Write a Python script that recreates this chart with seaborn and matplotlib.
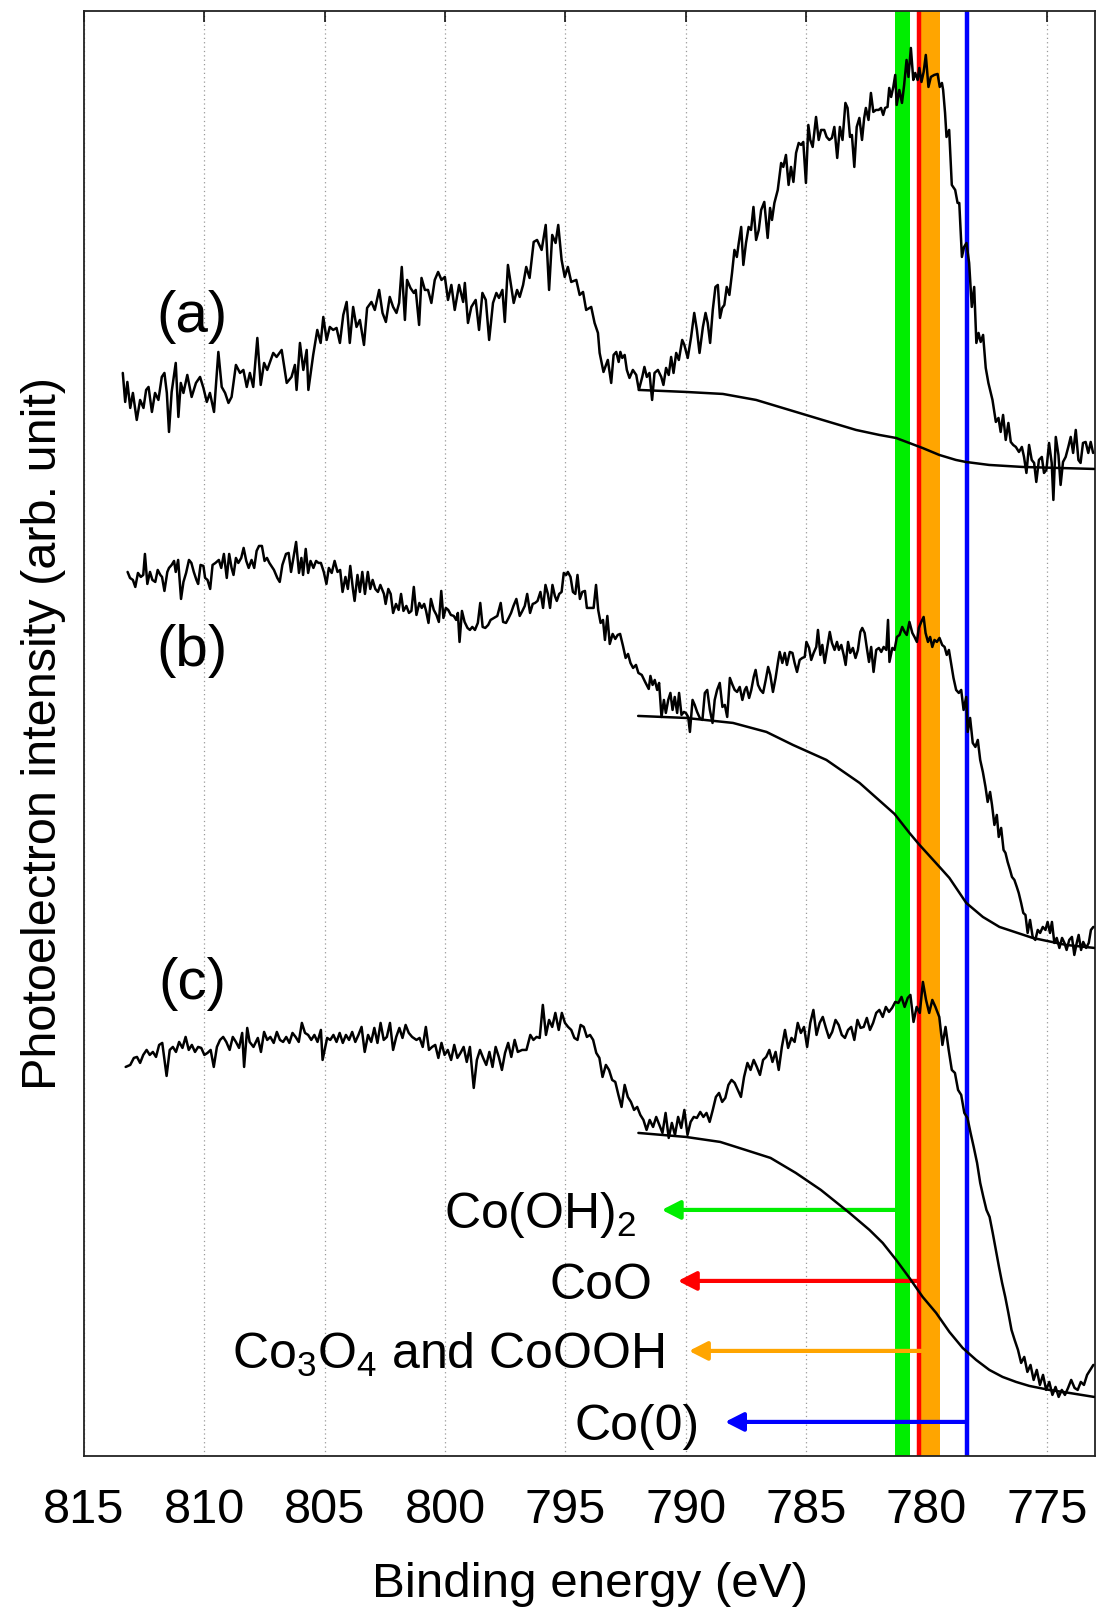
import numpy as np
import pandas as pd
import matplotlib
matplotlib.use("Agg")
import matplotlib.pyplot as plt
import seaborn as sns

# Co 2p XPS spectra (binding energy in eV, intensity in arb. units)
spec_a = [
    (813.39, 1083), (813.29, 1054), (813.20, 1074), (813.08, 1048), (812.97, 1063), (812.81, 1036),
    (812.67, 1056), (812.53, 1048), (812.42, 1066), (812.32, 1069), (812.18, 1044), (812.05, 1063),
    (811.91, 1056), (811.77, 1079), (811.66, 1083), (811.56, 1063), (811.47, 1024), (811.36, 1064),
    (811.19, 1093), (811.08, 1039), (810.98, 1073), (810.87, 1063), (810.71, 1081), (810.53, 1059),
    (810.35, 1073), (810.18, 1079), (810.04, 1068), (809.90, 1054), (809.77, 1063), (809.60, 1044),
    (809.42, 1104), (809.28, 1069), (809.14, 1063), (809.00, 1053), (808.87, 1059), (808.69, 1091),
    (808.52, 1083), (808.38, 1086), (808.24, 1069), (808.11, 1083), (807.97, 1069), (807.80, 1118),
    (807.66, 1071), (807.52, 1093), (807.39, 1086), (807.14, 1103), (807.00, 1099), (806.79, 1106),
    (806.58, 1073), (806.38, 1079), (806.24, 1091), (806.17, 1066), (806.03, 1113), (805.89, 1086),
    (805.75, 1106), (805.68, 1066), (805.48, 1101), (805.31, 1126), (805.17, 1113), (805.06, 1139),
    (804.92, 1116), (804.79, 1129), (804.65, 1126), (804.51, 1128), (804.37, 1113), (804.23, 1141),
    (804.09, 1154), (803.96, 1113), (803.82, 1149), (803.68, 1129), (803.54, 1136), (803.37, 1111),
    (803.24, 1148), (803.06, 1154), (802.92, 1146), (802.74, 1166), (802.60, 1143), (802.46, 1134),
    (802.30, 1159), (802.16, 1149), (802.02, 1143), (801.91, 1153), (801.80, 1189), (801.67, 1136),
    (801.58, 1176), (801.44, 1168), (801.30, 1163), (801.22, 1166), (801.08, 1131), (800.98, 1178),
    (800.84, 1166), (800.71, 1166), (800.57, 1153), (800.43, 1176), (800.29, 1184), (800.15, 1176),
    (800.01, 1179), (799.88, 1156), (799.74, 1171), (799.60, 1146), (799.42, 1171), (799.25, 1154),
    (799.18, 1173), (799.05, 1133), (798.91, 1149), (798.73, 1156), (798.59, 1126), (798.45, 1163),
    (798.31, 1156), (798.17, 1116), (798.01, 1153), (797.87, 1163), (797.76, 1158), (797.62, 1166),
    (797.52, 1134), (797.39, 1191), (797.25, 1169), (797.15, 1153), (797.01, 1166), (796.90, 1159),
    (796.76, 1171), (796.63, 1189), (796.49, 1178), (796.32, 1214), (796.18, 1216), (795.99, 1206),
    (795.82, 1231), (795.68, 1166), (795.55, 1221), (795.41, 1213), (795.30, 1231), (795.16, 1196),
    (795.03, 1179), (794.90, 1189), (794.76, 1174), (794.55, 1176), (794.41, 1161), (794.27, 1164),
    (794.14, 1146), (793.93, 1149), (793.79, 1133), (793.65, 1123), (793.58, 1103), (793.42, 1084),
    (793.24, 1096), (793.10, 1073), (793.00, 1101), (792.89, 1104), (792.79, 1094), (792.72, 1104),
    (792.64, 1098), (792.54, 1101), (792.45, 1086), (792.34, 1078), (792.20, 1086), (792.06, 1081),
    (791.95, 1066), (791.81, 1079), (791.72, 1089), (791.62, 1079), (791.51, 1083), (791.40, 1056),
    (791.30, 1083), (791.16, 1086), (791.02, 1079), (790.93, 1071), (790.82, 1088), (790.71, 1081),
    (790.61, 1099), (790.51, 1083), (790.40, 1103), (790.29, 1096), (790.15, 1116), (790.06, 1111),
    (789.92, 1098), (789.78, 1119), (789.65, 1143), (789.54, 1126), (789.43, 1103), (789.29, 1129),
    (789.18, 1143), (789.09, 1133), (788.99, 1113), (788.88, 1146), (788.77, 1169), (788.67, 1171),
    (788.58, 1138), (788.49, 1148), (788.40, 1151), (788.30, 1169), (788.19, 1161), (788.08, 1183),
    (787.98, 1206), (787.88, 1199), (787.80, 1213), (787.70, 1229), (787.61, 1191), (787.50, 1213),
    (787.39, 1229), (787.29, 1226), (787.19, 1249), (787.08, 1216), (786.97, 1226), (786.87, 1246),
    (786.74, 1254), (786.60, 1218), (786.50, 1248), (786.42, 1236), (786.32, 1253), (786.18, 1266),
    (786.04, 1293), (785.95, 1289), (785.84, 1301), (785.73, 1271), (785.63, 1289), (785.53, 1274),
    (785.42, 1303), (785.31, 1313), (785.21, 1311), (785.12, 1314), (785.01, 1273), (784.91, 1331),
    (784.83, 1316), (784.73, 1309), (784.59, 1339), (784.48, 1316), (784.38, 1326), (784.25, 1326),
    (784.15, 1319), (784.04, 1316), (783.93, 1318), (783.83, 1329), (783.71, 1298), (783.60, 1329),
    (783.49, 1316), (783.37, 1353), (783.28, 1348), (783.18, 1319), (783.10, 1321), (783.00, 1289),
    (782.90, 1329), (782.79, 1338), (782.68, 1316), (782.59, 1338), (782.52, 1348), (782.41, 1336),
    (782.31, 1363), (782.21, 1344), (782.10, 1346), (781.99, 1346), (781.89, 1348), (781.80, 1341),
    (781.72, 1348), (781.62, 1349), (781.55, 1368), (781.47, 1359), (781.38, 1369), (781.30, 1381),
    (781.24, 1351), (781.13, 1366), (781.02, 1353), (780.93, 1371), (780.83, 1396), (780.75, 1379),
    (780.65, 1408), (780.55, 1376), (780.47, 1383), (780.37, 1376), (780.30, 1388), (780.21, 1374),
    (780.12, 1384), (780.03, 1401), (779.92, 1369), (779.82, 1379), (779.68, 1381), (779.54, 1382),
    (779.45, 1369), (779.36, 1373), (779.31, 1366), (779.23, 1343), (779.17, 1319), (779.06, 1326),
    (778.95, 1271), (778.81, 1266), (778.71, 1253), (778.64, 1253), (778.53, 1199), (778.44, 1209),
    (778.34, 1213), (778.23, 1193), (778.12, 1149), (778.02, 1169), (777.93, 1113), (777.84, 1123),
    (777.75, 1114), (777.65, 1121), (777.54, 1088), (777.43, 1073), (777.26, 1056), (777.12, 1034),
    (777.01, 1038), (776.92, 1024), (776.82, 1041), (776.71, 1016), (776.60, 1033), (776.50, 1014),
    (776.40, 1011), (776.29, 1009), (776.16, 1004), (776.04, 1009), (775.95, 999), (775.85, 983),
    (775.74, 1011), (775.63, 996), (775.53, 993), (775.44, 974), (775.33, 996), (775.21, 999),
    (775.12, 983), (775.02, 986), (774.91, 1013), (774.80, 993), (774.73, 956), (774.63, 1019),
    (774.52, 1001), (774.43, 971), (774.33, 994), (774.22, 999), (774.11, 1009), (774.01, 1019),
    (773.91, 1003), (773.80, 1026), (773.69, 996), (773.60, 993), (773.50, 1013), (773.39, 1014),
    (773.28, 1003), (773.18, 1014), (773.08, 1003),
]

spec_b = [
    (813.19, 884), (813.09, 878), (812.97, 876), (812.87, 869), (812.76, 883), (812.64, 879),
    (812.54, 881), (812.47, 902), (812.37, 872), (812.26, 884), (812.16, 876), (812.04, 874),
    (811.94, 886), (811.83, 881), (811.76, 879), (811.66, 865), (811.54, 884), (811.47, 888),
    (811.36, 891), (811.26, 895), (811.19, 884), (811.09, 896), (810.97, 857), (810.87, 874),
    (810.76, 883), (810.64, 896), (810.54, 893), (810.44, 884), (810.33, 876), (810.26, 872),
    (810.16, 891), (810.04, 890), (809.97, 878), (809.87, 876), (809.76, 867), (809.66, 891),
    (809.54, 893), (809.40, 896), (809.30, 888), (809.19, 902), (809.07, 878), (808.97, 902),
    (808.87, 888), (808.79, 881), (808.69, 898), (808.59, 893), (808.47, 898), (808.37, 908),
    (808.26, 895), (808.16, 888), (808.04, 896), (807.93, 888), (807.83, 905), (807.73, 910),
    (807.61, 910), (807.50, 895), (807.40, 898), (807.30, 893), (807.11, 886), (806.97, 878),
    (806.87, 874), (806.76, 891), (806.61, 902), (806.50, 903), (806.40, 884), (806.30, 898),
    (806.19, 914), (806.07, 883), (805.97, 898), (805.90, 881), (805.79, 907), (805.69, 883),
    (805.59, 895), (805.47, 888), (805.36, 895), (805.26, 893), (805.16, 893), (805.04, 884),
    (804.93, 872), (804.83, 888), (804.71, 883), (804.59, 895), (804.47, 884), (804.36, 886),
    (804.26, 864), (804.14, 879), (804.04, 867), (803.94, 890), (803.83, 867), (803.76, 855),
    (803.64, 881), (803.54, 864), (803.44, 884), (803.33, 862), (803.21, 884), (803.11, 867),
    (803.01, 876), (802.90, 867), (802.79, 864), (802.69, 871), (802.54, 862), (802.47, 852),
    (802.36, 867), (802.26, 862), (802.16, 843), (802.04, 852), (801.93, 846), (801.83, 862),
    (801.73, 845), (801.61, 850), (801.50, 843), (801.40, 845), (801.30, 869), (801.19, 841),
    (801.07, 853), (800.97, 848), (800.87, 852), (800.79, 845), (800.69, 833), (800.59, 857),
    (800.47, 846), (800.36, 841), (800.26, 834), (800.16, 865), (800.07, 838), (799.97, 848),
    (799.87, 846), (799.76, 841), (799.64, 840), (799.54, 836), (799.47, 843), (799.40, 814),
    (799.30, 845), (799.19, 834), (799.07, 828), (798.97, 826), (798.87, 829), (798.76, 826),
    (798.64, 833), (798.54, 853), (798.44, 829), (798.33, 828), (798.21, 831), (798.11, 836),
    (797.97, 838), (797.83, 840), (797.69, 853), (797.59, 834), (797.47, 833), (797.36, 838),
    (797.26, 843), (797.16, 850), (797.04, 857), (796.90, 840), (796.79, 845), (796.69, 850),
    (796.59, 862), (796.47, 843), (796.36, 852), (796.26, 853), (796.16, 855), (796.04, 864),
    (795.93, 848), (795.83, 871), (795.73, 862), (795.64, 848), (795.54, 871), (795.44, 860),
    (795.36, 855), (795.26, 862), (795.16, 864), (795.07, 883), (794.97, 881), (794.90, 884),
    (794.79, 879), (794.69, 864), (794.59, 862), (794.50, 881), (794.40, 857), (794.30, 864),
    (794.19, 865), (794.11, 848), (794.01, 848), (793.90, 848), (793.83, 848), (793.73, 871),
    (793.64, 846), (793.54, 833), (793.44, 836), (793.36, 816), (793.26, 840), (793.16, 812),
    (793.04, 822), (792.93, 817), (792.83, 821), (792.73, 822), (792.61, 810), (792.50, 798),
    (792.40, 802), (792.30, 793), (792.19, 788), (792.07, 791), (791.97, 783), (791.83, 781),
    (791.69, 774), (791.54, 767), (791.47, 780), (791.38, 771), (791.29, 776), (791.19, 766),
    (791.11, 773), (791.01, 739), (790.91, 756), (790.83, 743), (790.73, 756), (790.64, 763),
    (790.55, 746), (790.46, 759), (790.36, 743), (790.28, 763), (790.18, 741), (790.08, 744),
    (790.00, 743), (789.90, 739), (789.83, 724), (789.72, 756), (789.63, 751), (789.53, 744),
    (789.42, 738), (789.31, 736), (789.21, 763), (789.11, 766), (789.00, 746), (788.89, 733),
    (788.80, 756), (788.70, 766), (788.59, 773), (788.48, 749), (788.38, 751), (788.28, 739),
    (788.17, 778), (788.06, 771), (787.97, 766), (787.87, 764), (787.76, 769), (787.65, 756),
    (787.55, 766), (787.48, 769), (787.37, 758), (787.28, 766), (787.18, 779), (787.10, 786),
    (787.00, 771), (786.90, 766), (786.79, 763), (786.68, 776), (786.58, 789), (786.49, 781),
    (786.38, 764), (786.27, 778), (786.17, 794), (786.10, 804), (785.99, 793), (785.89, 803),
    (785.80, 791), (785.68, 804), (785.57, 803), (785.48, 793), (785.38, 784), (785.27, 796),
    (785.16, 798), (785.06, 799), (784.99, 814), (784.88, 808), (784.79, 796), (784.69, 803),
    (784.58, 809), (784.51, 826), (784.41, 801), (784.33, 811), (784.23, 793), (784.14, 806),
    (784.02, 824), (783.93, 813), (783.82, 806), (783.72, 814), (783.64, 806), (783.54, 811),
    (783.44, 801), (783.36, 791), (783.26, 814), (783.17, 803), (783.06, 808), (782.95, 798),
    (782.85, 806), (782.75, 824), (782.67, 828), (782.57, 823), (782.48, 808), (782.39, 794),
    (782.30, 809), (782.20, 784), (782.09, 806), (781.98, 808), (781.88, 804), (781.78, 809),
    (781.67, 806), (781.60, 836), (781.54, 794), (781.42, 808), (781.33, 806), (781.23, 819),
    (781.12, 821), (781.01, 829), (780.91, 824), (780.82, 821), (780.71, 834), (780.59, 823),
    (780.50, 819), (780.40, 814), (780.32, 828), (780.22, 834), (780.12, 839), (780.04, 823),
    (779.94, 814), (779.85, 819), (779.76, 809), (779.67, 816), (779.57, 814), (779.46, 818),
    (779.35, 811), (779.25, 809), (779.16, 801), (779.07, 806), (778.98, 793), (778.88, 778),
    (778.77, 766), (778.66, 763), (778.56, 766), (778.46, 746), (778.35, 759), (778.29, 724),
    (778.19, 738), (778.08, 713), (777.97, 709), (777.87, 716), (777.77, 696), (777.66, 684),
    (777.55, 669), (777.46, 654), (777.36, 664), (777.28, 651), (777.18, 631), (777.08, 641),
    (777.00, 619), (776.90, 628), (776.80, 606), (776.72, 603), (776.63, 594), (776.53, 586),
    (776.45, 579), (776.35, 576), (776.25, 569), (776.17, 563), (776.07, 553), (775.98, 543),
    (775.89, 541), (775.80, 523), (775.70, 536), (775.59, 519), (775.48, 516), (775.38, 526),
    (775.28, 523), (775.17, 529), (775.06, 526), (774.97, 534), (774.87, 523), (774.79, 534),
    (774.69, 513), (774.59, 518), (774.48, 508), (774.37, 518), (774.27, 513), (774.18, 506),
    (774.07, 516), (773.96, 519), (773.86, 501), (773.76, 513), (773.68, 521), (773.58, 506),
    (773.49, 514), (773.37, 508), (773.26, 513), (773.17, 526), (773.07, 529),
]

spec_c = [
    (813.27, 389), (813.08, 391), (812.93, 398), (812.80, 399), (812.67, 393), (812.54, 401),
    (812.40, 406), (812.27, 401), (812.14, 404), (812.01, 399), (811.88, 411), (811.75, 413),
    (811.57, 380), (811.44, 406), (811.31, 409), (811.18, 404), (811.05, 414), (810.91, 408),
    (810.78, 419), (810.65, 406), (810.52, 411), (810.39, 404), (810.26, 409), (810.13, 408),
    (810.00, 401), (809.87, 403), (809.74, 406), (809.61, 389), (809.48, 409), (809.35, 416),
    (809.22, 419), (809.09, 414), (808.95, 406), (808.82, 419), (808.69, 414), (808.56, 408),
    (808.43, 423), (808.35, 389), (808.22, 428), (808.12, 414), (807.96, 409), (807.78, 418),
    (807.65, 404), (807.52, 424), (807.39, 416), (807.26, 419), (807.12, 413), (806.99, 424),
    (806.86, 416), (806.73, 414), (806.60, 419), (806.47, 413), (806.34, 423), (806.21, 419),
    (806.08, 414), (805.95, 433), (805.82, 423), (805.69, 421), (805.56, 416), (805.43, 421),
    (805.30, 414), (805.16, 426), (805.09, 396), (804.90, 418), (804.77, 416), (804.64, 421),
    (804.51, 414), (804.38, 423), (804.25, 413), (804.12, 421), (803.99, 416), (803.86, 424),
    (803.73, 414), (803.60, 421), (803.47, 429), (803.34, 404), (803.20, 421), (803.07, 414),
    (802.94, 428), (802.81, 413), (802.68, 433), (802.55, 416), (802.42, 419), (802.29, 433),
    (802.16, 406), (802.03, 419), (801.90, 428), (801.77, 418), (801.64, 431), (801.51, 423),
    (801.37, 419), (801.19, 416), (801.06, 418), (800.93, 409), (800.80, 429), (800.67, 406),
    (800.54, 409), (800.41, 411), (800.28, 398), (800.15, 413), (800.02, 401), (799.89, 406),
    (799.75, 396), (799.62, 411), (799.49, 398), (799.36, 403), (799.23, 409), (799.10, 394),
    (798.97, 409), (798.81, 368), (798.68, 396), (798.55, 406), (798.42, 398), (798.29, 391),
    (798.16, 404), (798.03, 389), (797.90, 409), (797.77, 399), (797.64, 386), (797.51, 403),
    (797.38, 413), (797.25, 399), (797.11, 416), (796.98, 404), (796.80, 406), (796.62, 406),
    (796.46, 421), (796.33, 416), (796.20, 419), (796.07, 418), (795.94, 451), (795.81, 421),
    (795.68, 436), (795.55, 429), (795.42, 443), (795.28, 426), (795.15, 443), (795.02, 433),
    (794.89, 429), (794.76, 426), (794.63, 418), (794.50, 416), (794.37, 431), (794.24, 429),
    (794.11, 419), (793.98, 421), (793.85, 416), (793.72, 403), (793.59, 398), (793.46, 379),
    (793.32, 391), (793.19, 386), (793.06, 376), (792.93, 374), (792.80, 361), (792.67, 349),
    (792.54, 371), (792.41, 359), (792.28, 354), (792.15, 346), (792.02, 349), (791.89, 341),
    (791.76, 336), (791.63, 326), (791.50, 336), (791.36, 329), (791.23, 339), (791.10, 331),
    (790.97, 323), (790.84, 343), (790.71, 318), (790.58, 333), (790.45, 321), (790.32, 339),
    (790.19, 328), (790.06, 346), (789.93, 321), (789.80, 334), (789.67, 339), (789.54, 338),
    (789.40, 344), (789.27, 339), (789.14, 343), (789.01, 334), (788.88, 346), (788.75, 359),
    (788.62, 363), (788.49, 354), (788.36, 358), (788.23, 371), (788.10, 376), (787.97, 373),
    (787.84, 366), (787.71, 359), (787.58, 379), (787.44, 393), (787.31, 386), (787.18, 396),
    (787.05, 389), (786.92, 381), (786.79, 396), (786.66, 399), (786.53, 406), (786.40, 394),
    (786.27, 404), (786.14, 386), (786.01, 409), (785.88, 426), (785.75, 408), (785.61, 418),
    (785.48, 414), (785.35, 433), (785.22, 423), (785.09, 429), (784.96, 409), (784.83, 433),
    (784.70, 446), (784.57, 421), (784.44, 433), (784.31, 439), (784.18, 428), (784.05, 418),
    (783.92, 424), (783.78, 436), (783.65, 431), (783.52, 421), (783.39, 418), (783.26, 426),
    (783.13, 429), (783.00, 416), (782.87, 436), (782.74, 428), (782.61, 429), (782.48, 438),
    (782.35, 426), (782.22, 433), (782.09, 443), (781.96, 446), (781.82, 439), (781.69, 449),
    (781.56, 444), (781.43, 448), (781.30, 454), (781.17, 453), (781.04, 459), (780.91, 449),
    (780.78, 458), (780.67, 461), (780.54, 434), (780.41, 449), (780.28, 443), (780.15, 474),
    (780.02, 456), (779.89, 443), (779.76, 456), (779.63, 449), (779.47, 439), (779.34, 411),
    (779.21, 429), (779.08, 406), (778.95, 386), (778.82, 383), (778.69, 366), (778.56, 361),
    (778.43, 343), (778.30, 338), (778.17, 323), (778.04, 309), (777.90, 293), (777.77, 273),
    (777.64, 259), (777.51, 246), (777.38, 239), (777.25, 223), (777.12, 206), (776.99, 189),
    (776.86, 173), (776.73, 159), (776.60, 143), (776.47, 126), (776.34, 116), (776.20, 106),
    (776.07, 93), (775.94, 99), (775.81, 84), (775.68, 91), (775.55, 76), (775.42, 86),
    (775.29, 71), (775.16, 81), (775.03, 66), (774.90, 74), (774.77, 61), (774.64, 69),
    (774.51, 59), (774.38, 66), (774.25, 61), (774.12, 68), (773.99, 76), (773.85, 68),
    (773.72, 66), (773.59, 74), (773.46, 71), (773.33, 81), (773.20, 86), (773.07, 91),
]

# Shirley-type backgrounds under each spectrum
bg_a = [
    (791.95, 1066), (790.00, 1064), (788.46, 1062), (787.08, 1056), (785.70, 1046), (784.32, 1036),
    (782.93, 1026), (781.96, 1021), (781.27, 1018), (780.72, 1013), (780.17, 1008), (779.47, 1001),
    (778.78, 996), (778.37, 994), (777.40, 991), (776.02, 989), (773.04, 987),
]
bg_b = [
    (791.98, 740), (790.00, 738), (788.04, 733), (786.65, 724), (785.55, 711), (784.16, 696),
    (782.78, 673), (781.33, 642), (780.71, 623), (780.29, 611), (779.46, 589), (779.05, 578),
    (778.35, 553), (777.66, 539), (776.97, 529), (775.59, 518), (774.20, 511), (773.03, 508),
]
bg_c = [
    (791.97, 323), (790.00, 319), (788.57, 314), (787.52, 306), (786.48, 298), (785.43, 283),
    (784.39, 266), (783.20, 243), (782.37, 226), (781.82, 213), (781.26, 196), (780.71, 178),
    (780.16, 159), (779.60, 143), (779.05, 124), (778.50, 108), (777.94, 96), (777.39, 86),
    (776.84, 79), (776.28, 74), (775.73, 70), (774.90, 66), (774.07, 63), (773.04, 59),
]

panel_labels = ["(a)", "(b)", "(c)"]
panel_label_y = [1139, 805, 472]

# reference binding energies
species = ["Co(OH)$_2$", "CoO", "Co$_3$O$_4$ and CoOOH", "Co(0)"]
species_colors = ["#00ee00", "red", "orange", "blue"]
span_green = (781.3, 780.7)
line_red = 780.3
span_orange = (780.21, 779.42)
line_blue = 778.33
arrow_start = [781.3, 780.38, 780.21, 778.35]
arrow_tip = [791.0, 790.33, 789.87, 788.37]
arrow_y = [246, 175, 105, 34]

xticks = [815, 810, 805, 800, 795, 790, 785, 780, 775]

sns.set_style("white")
plt.rcParams["font.family"] = ["Liberation Sans", "DejaVu Sans"]
plt.rcParams["mathtext.fontset"] = "custom"
plt.rcParams["mathtext.rm"] = "Liberation Sans"
plt.rcParams["mathtext.it"] = "Liberation Sans:italic"
plt.rcParams["text.color"] = "black"
plt.rcParams["axes.labelcolor"] = "black"
plt.rcParams["xtick.color"] = "black"

fig = plt.figure(figsize=(10.97, 16.10), dpi=100)
ax = fig.add_axes([0.0766, 0.0957, 0.9216, 0.8975])

# bands
ax.axvspan(*span_green, color=species_colors[0], lw=0, zorder=1)
ax.axvspan(*span_orange, color=species_colors[2], lw=0, zorder=1)
ax.axvline(line_red, color=species_colors[1], lw=3.2, zorder=1.2)
ax.axvline(line_blue, color=species_colors[3], lw=3.2, zorder=1.2)

# spectra + backgrounds
for pts in [spec_a, spec_b, spec_c, bg_a, bg_b, bg_c]:
    df = pd.DataFrame(pts, columns=["energy", "intensity"])
    sns.lineplot(data=df, x="energy", y="intensity", ax=ax, color="black",
                 lw=1.8, estimator=None, sort=False, zorder=3)

for lab, yy in zip(panel_labels, panel_label_y):
    ax.text(810.5, yy, lab, fontsize=42, ha="center", va="center")

# arrows with species names
for name, col, x0, x1, yy in zip(species, species_colors, arrow_start, arrow_tip, arrow_y):
    ax.annotate("", xy=(x1, yy), xytext=(x0, yy),
                arrowprops=dict(arrowstyle="-|>,head_length=0.55,head_width=0.28",
                                color=col, lw=3, mutation_scale=20,
                                shrinkA=0, shrinkB=0), zorder=2)
    ax.annotate(name, xy=(x1, yy), xytext=(-18, -13), textcoords="offset points",
                ha="right", va="baseline", fontsize=36)

ax.set_xlim(815, 773)
ax.set_ylim(0, 1445)
ax.set_xticks(xticks)
ax.set_xticklabels([str(t) for t in xticks])
ax.set_yticks([])
ax.grid(axis="x", linestyle=(0, (1, 2.5)), color="#999999", lw=0.9)
ax.set_axisbelow(True)
ax.tick_params(axis="x", direction="in", top=True, length=8, width=1.1,
               labelsize=35, pad=23)
for sp in ax.spines.values():
    sp.set_linewidth(1.3)
    sp.set_color("#222222")

ax.set_xlabel("Binding energy (eV)", fontsize=35.5, labelpad=21)
ax.set_ylabel("Photoelectron intensity (arb. unit)", fontsize=35, labelpad=13)

fig.savefig("out.png", dpi=100)
